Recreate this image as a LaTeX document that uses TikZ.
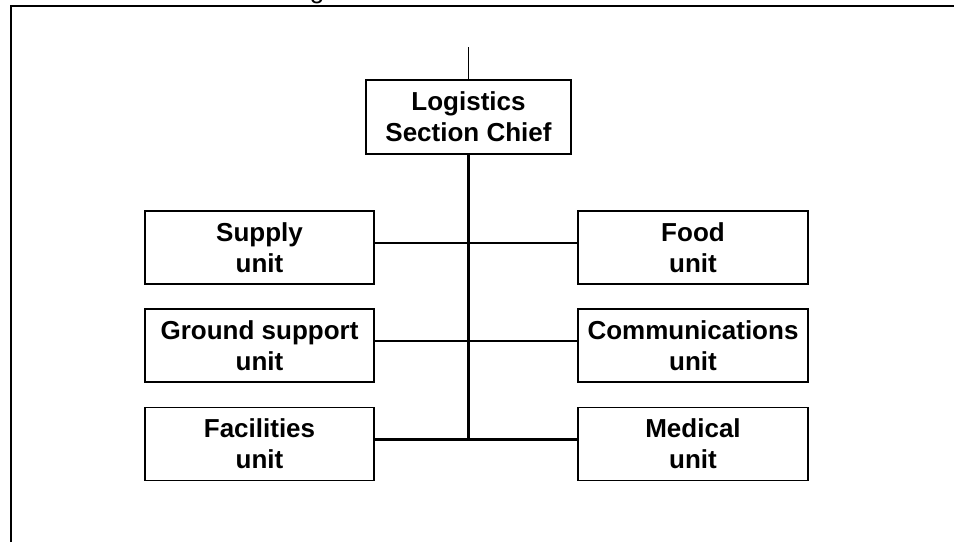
\documentclass[tikz,border=0pt]{standalone}
\usepackage{fontspec}
\setmainfont{Liberation Sans}
\usetikzlibrary{calc}

\begin{document}
\begin{tikzpicture}[x=1pt,y=-1pt,
	unitbox/.style={draw,line width=1.5pt,minimum width=229pt,minimum height=73pt,inner sep=0pt,align=center,font=\fontsize{26}{31}\selectfont\bfseries},
	link/.style={line width=2.5pt}]
	%%%%% START %%%%%
	\def\xc{468.5}
	\def\xl{259.5}
	\def\xr{693}
	\def\yone{247.5}
	\def\ytwo{345.5}
	\def\ythree{444}
	\def\up{4.5pt}
	
	\useasboundingbox (0,0) rectangle (954,542);
	
	% frame, cut off at the page edge
	\draw[line width=2pt] (11,542) -- (11,6) -- (954,6);
	\node[anchor=base,font=\fontsize{26}{31}\selectfont] (ttl) at (317,-1.5) {g};
	
	\node[unitbox,minimum width=205pt,minimum height=74pt] (chief) at (\xc,117) {Logistics\\Section Chief};
	
	\node[unitbox] (supply) at (\xl,\yone) {Supply\\unit};
	\node[unitbox] (ground) at (\xl,\ytwo) {Ground support\\unit};
	\node[unitbox] (facil) at (\xl,\ythree) {Facilities\\unit};
	
	\node[unitbox,minimum width=230pt] (food) at (\xr,\yone) {Food\\unit};
	\node[unitbox,minimum width=230pt] (comms) at (\xr,\ytwo) {Communications\\unit};
	\node[unitbox,minimum width=230pt] (medic) at (\xr,\ythree) {Medical\\unit};
	
	\coordinate (top) at (\xc,47);
	\coordinate (bot) at (\xc,439);
	
	\draw[line width=1pt] (top) -- (chief.north);
	\draw[link] (chief.south) -- (bot);
	\draw[link] ([yshift=\up]supply.east) -- ([yshift=\up]food.west);
	\draw[link] ([yshift=\up]ground.east) -- ([yshift=\up]comms.west);
	\draw[link] ([yshift=\up]facil.east) -- ([yshift=\up]medic.west);
	%%%%% START %%%%%
\end{tikzpicture}
\end{document}
